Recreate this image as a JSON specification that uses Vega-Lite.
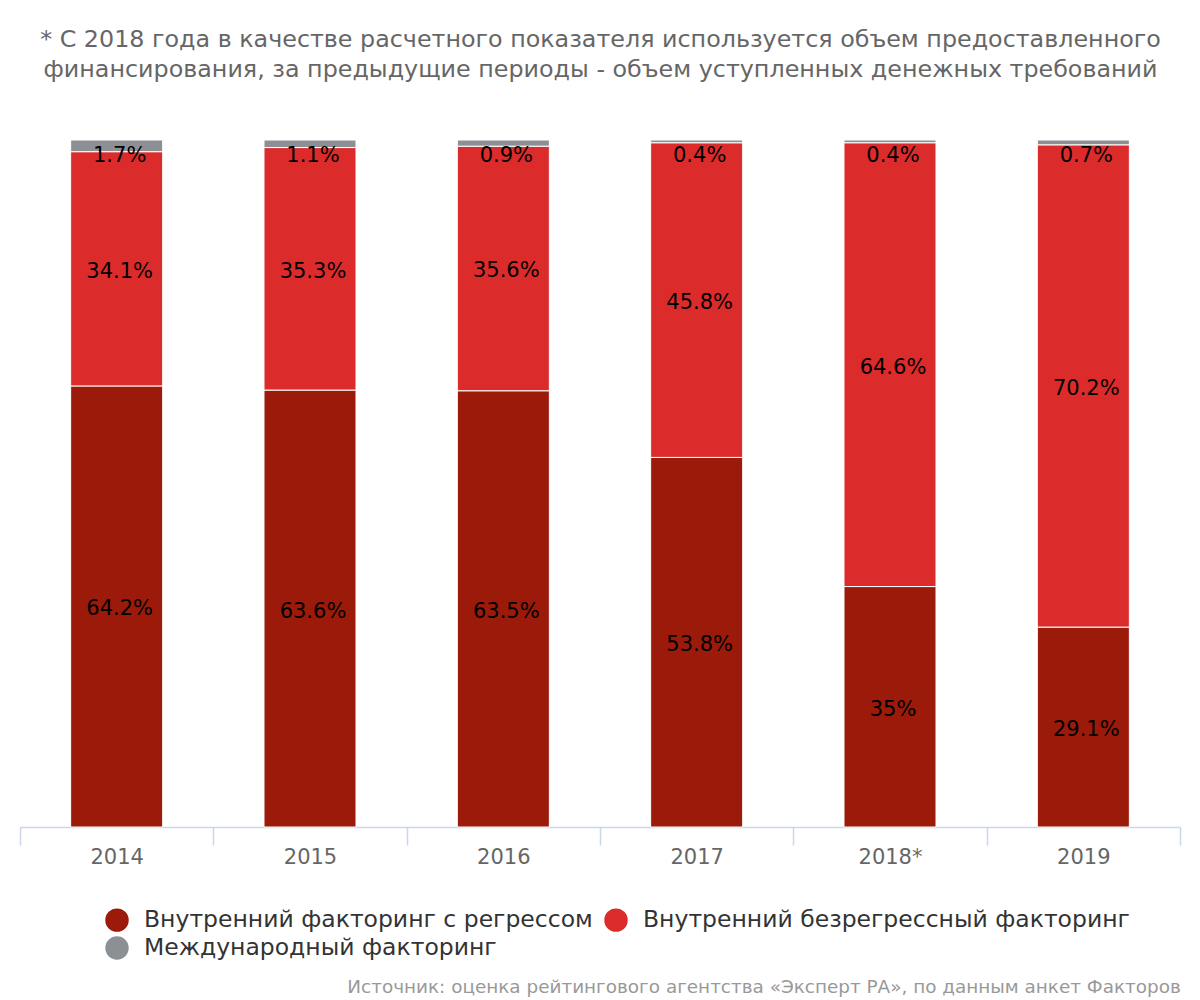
{
  "$schema": "https://vega.github.io/schema/vega-lite/v6.json",
  "width": 1160,
  "height": 687,
  "padding": {"left": 19, "right": 20, "top": 27, "bottom": 5},
  "autosize": {"type": "pad"},
  "background": "white",
  "config": {
    "font": "DejaVu Sans",
    "view": {"stroke": null}
  },
  "title": {
    "text": "Источник: оценка рейтингового агентства «Эксперт РА», по данным анкет Факторов",
    "orient": "bottom",
    "anchor": "end",
    "fontSize": 18.4,
    "fontWeight": "normal",
    "color": "#999999",
    "offset": 18
  },
  "data": {
    "values": [
      {"year": "2014", "category": "Внутренний факторинг с регрессом", "rank": 1, "value": 64.2, "label": "64.2%"},
      {"year": "2014", "category": "Внутренний безрегрессный факторинг", "rank": 2, "value": 34.1, "label": "34.1%"},
      {"year": "2014", "category": "Международный факторинг", "rank": 3, "value": 1.7, "label": "1.7%"},
      {"year": "2015", "category": "Внутренний факторинг с регрессом", "rank": 1, "value": 63.6, "label": "63.6%"},
      {"year": "2015", "category": "Внутренний безрегрессный факторинг", "rank": 2, "value": 35.3, "label": "35.3%"},
      {"year": "2015", "category": "Международный факторинг", "rank": 3, "value": 1.1, "label": "1.1%"},
      {"year": "2016", "category": "Внутренний факторинг с регрессом", "rank": 1, "value": 63.5, "label": "63.5%"},
      {"year": "2016", "category": "Внутренний безрегрессный факторинг", "rank": 2, "value": 35.6, "label": "35.6%"},
      {"year": "2016", "category": "Международный факторинг", "rank": 3, "value": 0.9, "label": "0.9%"},
      {"year": "2017", "category": "Внутренний факторинг с регрессом", "rank": 1, "value": 53.8, "label": "53.8%"},
      {"year": "2017", "category": "Внутренний безрегрессный факторинг", "rank": 2, "value": 45.8, "label": "45.8%"},
      {"year": "2017", "category": "Международный факторинг", "rank": 3, "value": 0.4, "label": "0.4%"},
      {"year": "2018*", "category": "Внутренний факторинг с регрессом", "rank": 1, "value": 35, "label": "35%"},
      {"year": "2018*", "category": "Внутренний безрегрессный факторинг", "rank": 2, "value": 64.6, "label": "64.6%"},
      {"year": "2018*", "category": "Международный факторинг", "rank": 3, "value": 0.4, "label": "0.4%"},
      {"year": "2019", "category": "Внутренний факторинг с регрессом", "rank": 1, "value": 29.1, "label": "29.1%"},
      {"year": "2019", "category": "Внутренний безрегрессный факторинг", "rank": 2, "value": 70.2, "label": "70.2%"},
      {"year": "2019", "category": "Международный факторинг", "rank": 3, "value": 0.7, "label": "0.7%"}
    ]
  },
  "layer": [
    {
      "mark": {"type": "bar", "width": {"band": 0.476}, "stroke": "white", "strokeWidth": 1},
      "encoding": {
        "x": {
          "field": "year",
          "type": "nominal",
          "sort": null,
          "scale": {"paddingInner": 0, "paddingOuter": 0},
          "axis": {
            "orient": "bottom",
            "title": null,
            "labelAngle": 0,
            "tickBand": "extent",
            "tickSize": 18,
            "tickColor": "#ccd6eb",
            "domainColor": "#ccd6eb",
            "tickWidth": 1.5,
            "domainWidth": 1.5,
            "labelFontSize": 21,
            "labelColor": "#666666",
            "labelPadding": 1
          }
        },
        "y": {
          "field": "value",
          "type": "quantitative",
          "stack": "zero",
          "scale": {"domain": [0, 100], "nice": false},
          "axis": null
        },
        "order": {"field": "rank", "type": "quantitative", "sort": "ascending"},
        "color": {
          "field": "category",
          "type": "nominal",
          "scale": {
            "domain": ["Внутренний факторинг с регрессом", "Внутренний безрегрессный факторинг", "Международный факторинг"],
            "range": ["#9b1a0a", "#dc2b2b", "#8c9094"]
          },
          "legend": {
            "orient": "none",
            "legendX": 85,
            "legendY": 768,
            "direction": "horizontal",
            "columns": 2,
            "title": null,
            "symbolType": "circle",
            "symbolSize": 548,
            "symbolStrokeWidth": 0,
            "symbolOpacity": 1,
            "labelFontSize": 23.5,
            "labelColor": "#333333",
            "labelOffset": 15,
            "labelLimit": 700,
            "columnPadding": 11,
            "rowPadding": 4
          }
        }
      }
    },
    {
      "transform": [{"filter": "datum.rank < 3"}],
      "mark": {"type": "text", "fontSize": 21, "color": "#000000", "dx": 3, "dy": 3, "baseline": "middle"},
      "encoding": {
        "x": {
          "field": "year",
          "type": "nominal",
          "sort": null,
          "axis": {
            "orient": "top",
            "title": ["* С 2018 года в качестве расчетного показателя используется объем предоставленного", "финансирования, за предыдущие периоды - объем уступленных денежных требований"],
            "labels": false,
            "ticks": false,
            "domain": false,
            "titleFontSize": 23.8,
            "titleFontWeight": "normal",
            "titleColor": "#666666",
            "titleLineHeight": 30,
            "titlePadding": 59
          }
        },
        "y": {
          "field": "value",
          "type": "quantitative",
          "stack": "zero",
          "bandPosition": 0.5
        },
        "order": {"field": "rank", "type": "quantitative", "sort": "ascending"},
        "detail": {"field": "category"},
        "text": {"field": "label"}
      }
    },
    {
      "transform": [{"filter": "datum.rank == 3"}],
      "mark": {"type": "text", "fontSize": 21, "color": "#000000", "dx": 3, "dy": 16, "baseline": "middle"},
      "encoding": {
        "x": {"field": "year", "type": "nominal", "sort": null, "axis": null},
        "y": {"datum": 100, "type": "quantitative"},
        "text": {"field": "label"}
      }
    }
  ],
  "resolve": {"axis": {"x": "independent"}}
}
